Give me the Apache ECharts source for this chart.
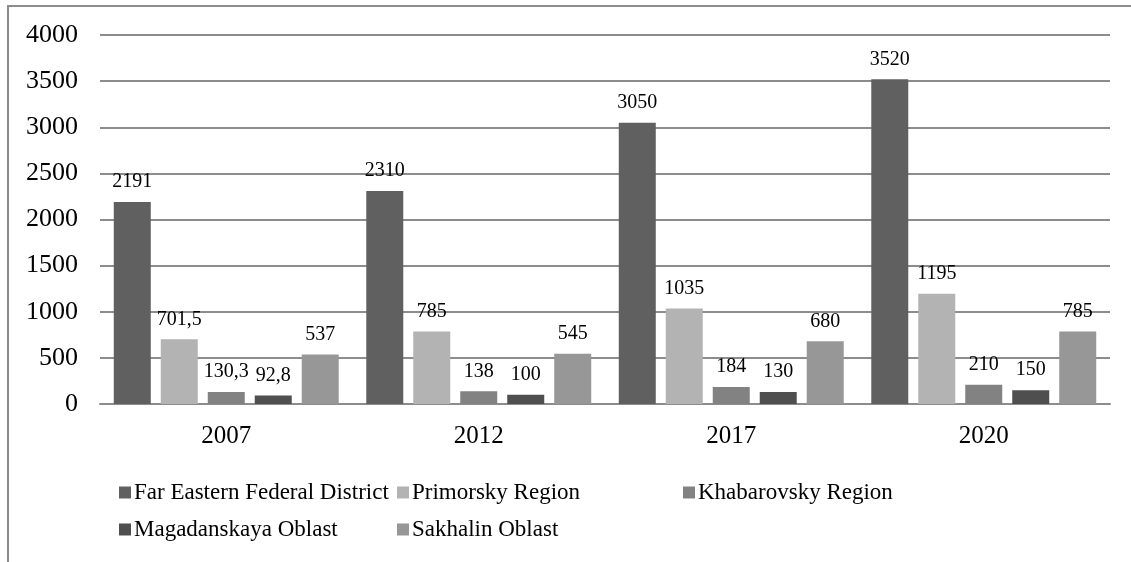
<!DOCTYPE html>
<html>
<head>
<meta charset="utf-8">
<script src="https://cdn.jsdelivr.net/npm/echarts@6/dist/echarts.min.js"></script>
<style>
  html, body { margin: 0; padding: 0; background: #fff; }
  #frame {
    position: absolute; left: 7px; top: 5px; width: 1124px; height: 557px;
    border-top: 2px solid #8c8c8c; border-left: 2px solid #8c8c8c;
  }
  #chart { position: absolute; left: 0; top: 0; width: 1131px; height: 562px; }
</style>
</head>
<body>
<div id="frame"></div>
<div id="chart"></div>
<script>
// categories and series values
const years = ['2007', '2012', '2017', '2020']
const farEastern = [2191, 2310, 3050, 3520]
const primorsky = [701.5, 785, 1035, 1195]
const khabarovsky = [130.3, 138, 184, 210]
const magadan = [92.8, 100, 130, 150]
const sakhalin = [537, 545, 680, 785]

const names = [
  'Far Eastern Federal District',
  'Primorsky Region',
  'Khabarovsky Region',
  'Magadanskaya Oblast',
  'Sakhalin Oblast'
]
const values = [farEastern, primorsky, khabarovsky, magadan, sakhalin]
const colors = ['#606060', '#b3b3b3', '#828282', '#4f4f4f', '#979797']

const font = 'Liberation Serif, Times New Roman, serif'

let myChart = echarts.init(document.getElementById('chart'))

// one legend per item so they sit in fixed columns like the original
const legendPos = [
  {left: 114, top: 476},
  {left: 392, top: 476},
  {left: 678, top: 476},
  {left: 114, top: 513},
  {left: 392, top: 513}
]
const legends = names.map((n, i) => ({
  data: [n],
  left: legendPos[i].left,
  top: legendPos[i].top,
  icon: 'rect',
  itemWidth: 12,
  itemHeight: 12,
  itemGap: 4,
  textStyle: {fontFamily: font, fontSize: 23, color: '#000', padding: [0, 0, 0, -2]}
}))

myChart.setOption({
  animation: false,
  legend: legends,
  grid: {left: 100, right: 21, top: 35, bottom: 158},
  xAxis: {
    type: 'category',
    data: years,
    axisLine: {lineStyle: {color: '#8c8c8c', width: 2}},
    axisTick: {show: false},
    axisLabel: {fontFamily: font, fontSize: 25, color: '#000', margin: 20}
  },
  yAxis: {
    type: 'value',
    min: 0,
    max: 4000,
    interval: 500,
    axisLine: {show: false},
    axisTick: {show: false},
    axisLabel: {fontFamily: font, fontSize: 26, color: '#000', margin: 22, formatter: v => String(v)},
    splitLine: {lineStyle: {color: '#8c8c8c', width: 2}}
  },
  series: names.map((n, i) => ({
    name: n,
    type: 'bar',
    data: values[i],
    barWidth: 37,
    barGap: '27%',
    itemStyle: {color: colors[i]},
    label: {
      show: true,
      position: 'top',
      distance: 10,
      fontFamily: font,
      fontSize: 20,
      color: '#000',
      formatter: p => String(p.value).replace('.', ',')
    }
  }))
})
</script>
</body>
</html>
